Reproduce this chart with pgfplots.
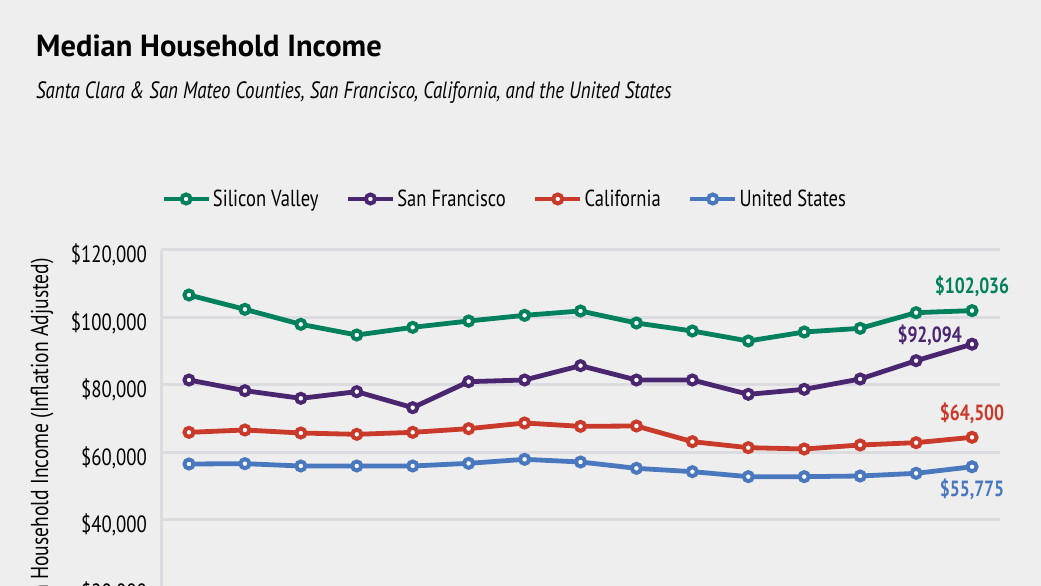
\documentclass[border=0pt]{standalone}
\usepackage{pgfplots}
\pgfplotsset{compat=1.18}
\usepackage{fontspec}
\setmainfont{PT Sans}[FakeStretch=0.8]
\newfontfamily\titlefont{PT Sans Bold}

\definecolor{bgc}{HTML}{EEEEEE}
\definecolor{gridc}{HTML}{DCDCE0}
\definecolor{svc}{HTML}{00805C}
\definecolor{sfc}{HTML}{4A2570}
\definecolor{cac}{HTML}{C93A2A}
\definecolor{usc}{HTML}{4A78BF}

\newcommand{\fs}[1]{\fontsize{#1}{#1}\selectfont}

\begin{document}
\begin{tikzpicture}[x=1pt,y=1pt]
\path[use as bounding box] (0,0) rectangle (1041,586);
\clip (0,0) rectangle (1041,586);
\fill[bgc] (0,0) rectangle (1041,586);
\node[anchor=base west, inner sep=0, font=\fs{30.5}\titlefont] at (36,529) {Median Household Income};
\node[anchor=base west, inner sep=0, font=\fs{23.6}\itshape] at (36,487) {Santa Clara \& San Mateo Counties, San Francisco, California, and the United States};
\begin{axis}[
  at={(161pt,-69pt)}, anchor=south west,
  width=839pt, height=405pt, scale only axis,
  xmin=-0.5, xmax=14.5, ymin=0, ymax=120000,
  axis y line*=left, axis x line*=bottom,
  x axis line style={draw=none},
  y axis line style={gridc, line width=3pt, -},
  xtick=\empty,
  ytick={0,20000,40000,60000,80000,100000,120000},
  scaled y ticks=false,
  yticklabel={\$\pgfmathprintnumber[fixed,1000 sep={,},assume math mode=true]{\tick}},
  yticklabel style={font=\fs{23.5}, inner sep=0pt, xshift=-14pt, yshift=-5pt},
  major tick length=0pt,
  ymajorgrids, grid style={gridc, line width=3pt},
  ylabel={Median Household Income (Inflation Adjusted)},
  ylabel style={font=\fs{24.5}, at={(axis description cs:-0.1418,0.5)}, anchor=center},
  legend columns=4,
  legend style={draw=none, fill=none, at={(0,1)}, anchor=west, yshift=51pt,
    inner xsep=0pt, font=\fs{23.2},
    /tikz/every even column/.append style={column sep=25pt}},
  legend image code/.code={
    \draw[#1, mark repeat=2, mark phase=2] plot coordinates {(0pt,0pt) (22.5pt,0pt) (45pt,0pt)};
  },
  every axis plot/.append style={line width=4.8pt, mark=*, mark size=4.5pt},
  clip=false,
]
\addplot[svc, mark options={fill=white, draw=svc, line width=4pt}] coordinates {
  (0,106667) (1,102420) (2,97975) (3,94815) (4,97086) (5,98963) (6,100642) (7,101926)
  (8,98370) (9,96000) (10,93037) (11,95704) (12,96790) (13,101432) (14,102036)
};
\addplot[sfc, mark options={fill=white, draw=sfc, line width=4pt}] coordinates {
  (0,81481) (1,78321) (2,76050) (3,78025) (4,73284) (5,80988) (6,81481) (7,85728)
  (8,81481) (9,81481) (10,77235) (11,78716) (12,81778) (13,87210) (14,92094)
};
\addplot[cac, mark options={fill=white, draw=cac, line width=4pt}] coordinates {
  (0,65975) (1,66667) (2,65778) (3,65383) (4,65975) (5,67062) (6,68741) (7,67753)
  (8,67850) (9,63210) (10,61432) (11,61037) (12,62222) (13,62914) (14,64500)
};
\addplot[usc, mark options={fill=white, draw=usc, line width=4pt}] coordinates {
  (0,56593) (1,56691) (2,56000) (3,56000) (4,56000) (5,56790) (6,57975) (7,57185)
  (8,55309) (9,54321) (10,52840) (11,52840) (12,53037) (13,53827) (14,55775)
};
\legend{Silicon Valley, San Francisco, California, United States}
\node[svc, font=\fs{22}\bfseries, anchor=base, yshift=17pt] at (axis cs:14,102036) {\$102,036};
\node[sfc, font=\fs{22}\bfseries, anchor=base east, inner sep=0pt, xshift=-10pt, yshift=2pt] at (axis cs:14,92094) {\$92,094};
\node[cac, font=\fs{22}\bfseries, anchor=base, yshift=17pt] at (axis cs:14,64500) {\$64,500};
\node[usc, font=\fs{22}\bfseries, anchor=base, yshift=-30pt] at (axis cs:14,55775) {\$55,775};
\end{axis}
\end{tikzpicture}
\end{document}
